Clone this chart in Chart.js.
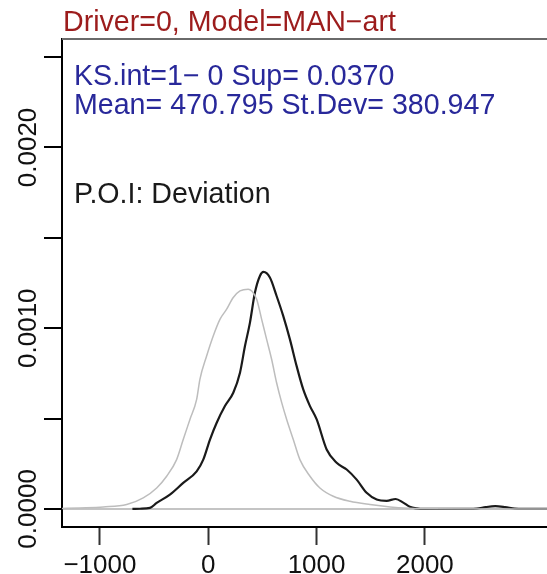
<!DOCTYPE html>
<html>
<head>
<meta charset="utf-8">
<script src="https://cdn.jsdelivr.net/npm/chart.js@4"></script>
<style>
  html, body { margin: 0; padding: 0; background: #fff; }
  #wrap { width: 547px; height: 574px; }
</style>
</head>
<body>
<div id="wrap"><canvas id="densityChart" width="547" height="574"></canvas></div>
<script>
// observed density (black)
const obsX = [-700, -630, -538, -476, -354, -231, -107, -46, 16, 78, 154, 231, 293, 339, 385, 431, 477, 510, 569, 631, 692, 754, 816, 877, 939, 1001, 1093, 1185, 1278, 1370, 1462, 1555, 1647, 1730, 1800, 1860, 1920, 2000, 2300, 2480, 2560, 2650, 2740, 2830, 2900, 3130];
const obsY = [0, 0.000001, 0.0000055, 0.000033, 0.000079, 0.000144, 0.000208, 0.000273, 0.000384, 0.000477, 0.000569, 0.000643, 0.000754, 0.000901, 0.001031, 0.001197, 0.001289, 0.001311, 0.001280, 0.001178, 0.001068, 0.000938, 0.000790, 0.000661, 0.000569, 0.000495, 0.000329, 0.000255, 0.000218, 0.000162, 0.000089, 0.000052, 0.000045, 0.000055, 0.000035, 0.000012, 0.000003, 0, 0, 0.000002, 0.000010, 0.000015, 0.000010, 0.000002, 0, 0];

// reference density (grey)
const refX = [-1360, -1186, -969, -753, -600, -476, -384, -292, -231, -169, -107, -77, -15, 46, 108, 170, 231, 293, 369, 401, 447, 493, 539, 585, 631, 678, 724, 785, 846, 939, 1031, 1154, 1308, 1493, 1678, 1850, 2000, 3130];
const refY = [0.000002, 0.0000055, 0.000011, 0.000024, 0.000061, 0.000116, 0.000181, 0.000273, 0.000384, 0.000495, 0.000606, 0.000717, 0.000846, 0.000957, 0.001049, 0.001105, 0.001170, 0.001206, 0.001216, 0.001206, 0.001160, 0.001049, 0.000938, 0.000828, 0.000698, 0.000588, 0.000495, 0.000384, 0.000273, 0.000181, 0.000116, 0.000070, 0.000042, 0.000024, 0.000011, 0.000004, 0.000001, 0];

const xTicks = [-1000, 0, 1000, 2000];
const yTicks = [0, 0.0005, 0.0010, 0.0015, 0.0020, 0.0025];
const yLabels = [0, 0.0010, 0.0020];

const titleText = 'Driver=0, Model=MAN\u2212art';
const statLines = ['KS.int=1\u2212 0 Sup= 0.0370', 'Mean= 470.795 St.Dev= 380.947'];
const poiText = 'P.O.I: Deviation';

const FONT = '"Liberation Sans", Arial, sans-serif';

const toPoints = (xs, ys) => xs.map((x, i) => ({ x: x, y: ys[i] }));

// frame top edge, rotated y labels and the header text
const annotate = {
  id: 'annotate',
  afterDraw(chart) {
    const { ctx, chartArea, scales } = chart;
    ctx.save();

    ctx.strokeStyle = '#6a6a6a';
    ctx.lineWidth = 2;
    ctx.beginPath();
    ctx.moveTo(chartArea.left, chartArea.top);
    ctx.lineTo(chartArea.right, chartArea.top);
    ctx.stroke();

    ctx.font = '26px ' + FONT;
    ctx.fillStyle = '#111';
    ctx.textAlign = 'center';
    ctx.textBaseline = 'middle';
    yLabels.forEach(v => {
      const y = scales.y.getPixelForValue(v);
      ctx.save();
      ctx.translate(29, y);
      ctx.rotate(-Math.PI / 2);
      ctx.fillText(v.toFixed(4), 0, 0);
      ctx.restore();
    });

    ctx.textAlign = 'left';
    ctx.textBaseline = 'alphabetic';
    ctx.font = '28.6px ' + FONT;
    ctx.fillStyle = '#9c1c1c';
    ctx.fillText(titleText, 63, 31);

    ctx.fillStyle = '#28289a';
    ctx.fillText(statLines[0], 74, 85);
    ctx.fillText(statLines[1], 74, 114);

    ctx.fillStyle = '#1a1a1a';
    ctx.fillText(poiText, 74, 203);

    ctx.restore();
  }
};

new Chart(document.getElementById('densityChart'), {
  type: 'scatter',
  data: {
    datasets: [
      {
        label: 'reference',
        data: toPoints(refX, refY),
        showLine: true,
        borderColor: '#bdbdbd',
        borderWidth: 1.5,
        pointRadius: 0,
        cubicInterpolationMode: 'monotone'
      },
      {
        label: 'observed',
        data: toPoints(obsX, obsY),
        showLine: true,
        borderColor: '#1a1a1a',
        borderWidth: 2.2,
        pointRadius: 0,
        cubicInterpolationMode: 'monotone'
      }
    ]
  },
  options: {
    responsive: false,
    animation: false,
    layout: { padding: { top: 39, left: 0, right: 0, bottom: 0 } },
    plugins: {
      legend: { display: false },
      tooltip: { enabled: false }
    },
    scales: {
      x: {
        type: 'linear',
        min: -1350,
        max: 3127,
        afterBuildTicks: s => { s.ticks = xTicks.map(v => ({ value: v })); },
        afterFit: s => { s.height = 47; },
        border: { display: true, color: '#000', width: 2 },
        grid: { drawOnChartArea: false, drawTicks: true, tickLength: 18, tickColor: '#333', tickWidth: 2 },
        ticks: {
          padding: 5,
          maxRotation: 0,
          color: '#111',
          font: { family: FONT, size: 26 },
          callback: v => v < 0 ? '\u2212' + Math.abs(v) : String(v)
        }
      },
      y: {
        type: 'linear',
        min: -0.0001,
        max: 0.0026,
        afterBuildTicks: s => { s.ticks = yTicks.map(v => ({ value: v })); },
        afterFit: s => { s.width = 62; },
        border: { display: true, color: '#000', width: 2 },
        grid: {
          drawOnChartArea: true,
          drawTicks: true,
          tickLength: 18,
          tickColor: '#000',
          tickWidth: 2,
          lineWidth: 2,
          color: c => (c.tick && c.tick.value === 0) ? '#c4c4c4' : 'rgba(0,0,0,0)'
        },
        ticks: { display: false }
      }
    }
  },
  plugins: [annotate]
});
</script>
</body>
</html>
